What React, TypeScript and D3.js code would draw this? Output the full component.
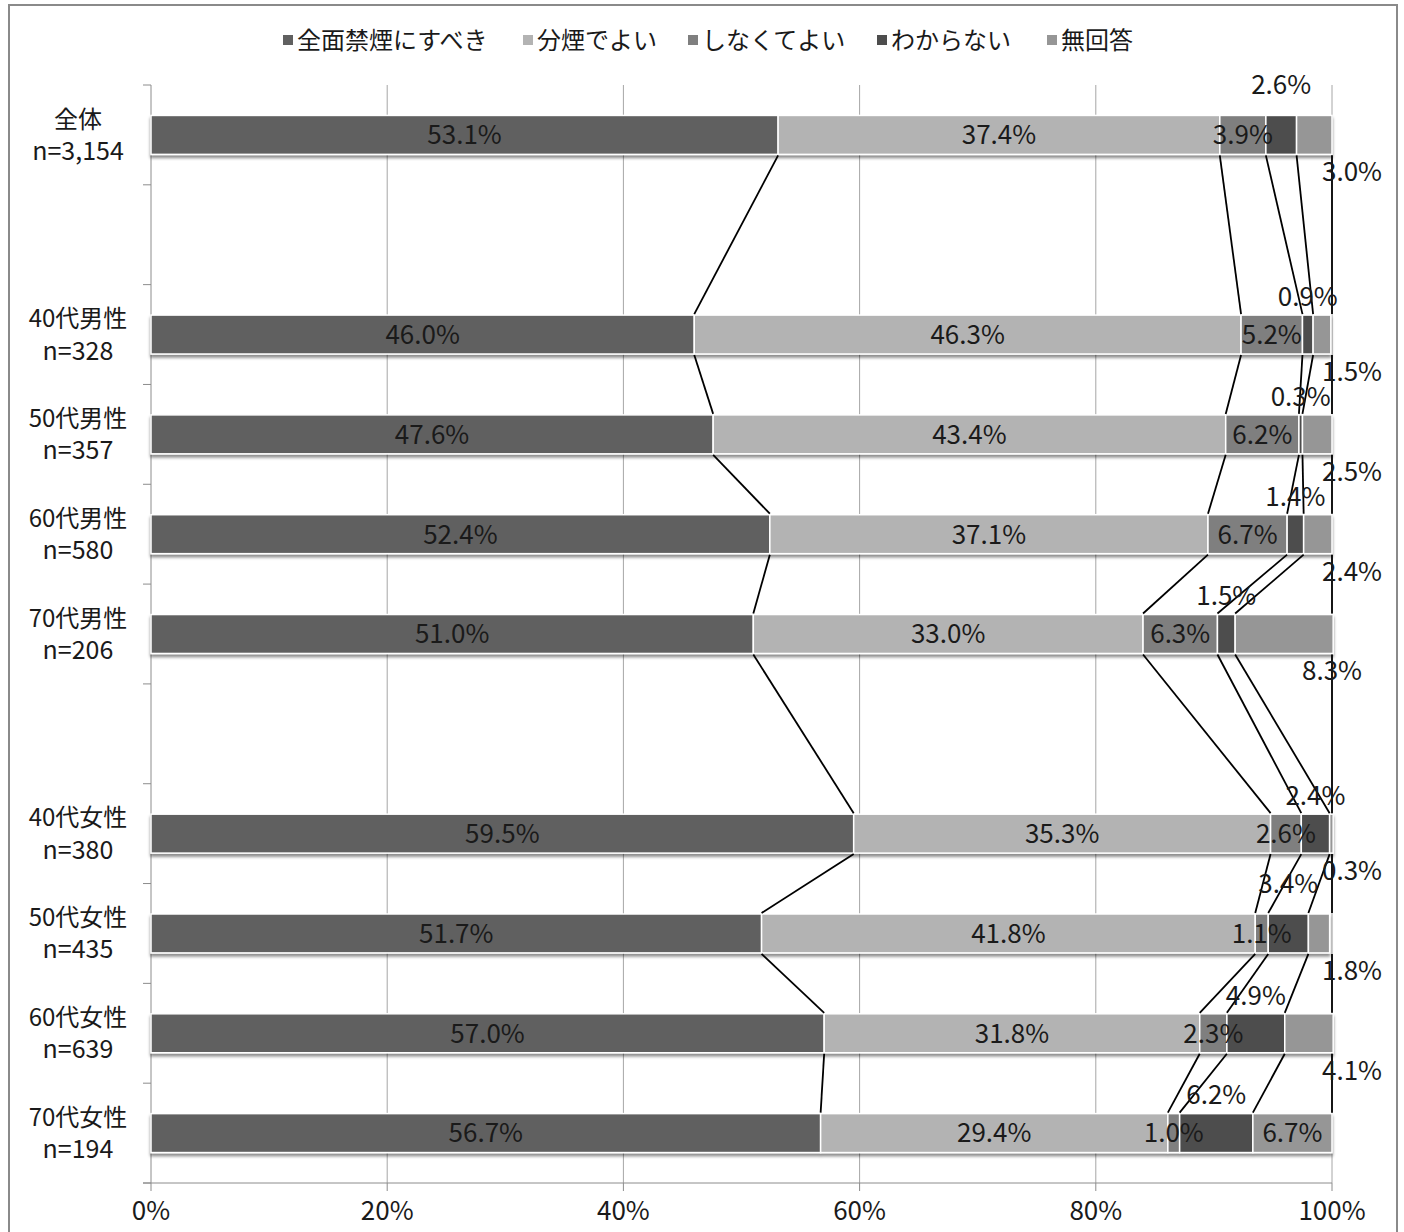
import React from "react";
import * as d3 from "d3";

const categories = ["全体", "", "40代男性", "50代男性", "60代男性", "70代男性", "", "40代女性", "50代女性", "60代女性", "70代女性"];
const sampleSizes = ["n=3,154", "", "n=328", "n=357", "n=580", "n=206", "", "n=380", "n=435", "n=639", "n=194"];
const seriesNames = ["全面禁煙にすべき", "分煙でよい", "しなくてよい", "わからない", "無回答"];
const seriesColors = ["#606060", "#b3b3b3", "#7f7f7f", "#4d4d4d", "#969696"];
const totalBan = [53.1, null, 46.0, 47.6, 52.4, 51.0, null, 59.5, 51.7, 57.0, 56.7];
const separate = [37.4, null, 46.3, 43.4, 37.1, 33.0, null, 35.3, 41.8, 31.8, 29.4];
const notNeeded = [3.9, null, 5.2, 6.2, 6.7, 6.3, null, 2.6, 1.1, 2.3, 1.0];
const dontKnow = [2.6, null, 0.9, 0.3, 1.4, 1.5, null, 2.4, 3.4, 4.9, 6.2];
const noAnswer = [3.0, null, 1.5, 2.5, 2.4, 8.3, null, 0.3, 1.8, 4.1, 6.7];
const xTicks = [0, 20, 40, 60, 80, 100];

const seriesValues = [totalBan, separate, notNeeded, dontKnow, noAnswer];

const FONT = "'Noto Sans CJK JP', 'Noto Sans', sans-serif";
const TEXT = "#1a1a1a";

export default function App() {
  const x = d3.scaleLinear().domain([0, 100]).range([151, 1332]);
  const keys = categories.map((_, i) => String(i));
  const y = d3.scaleBand().domain(keys).range([85, 1183]).paddingInner(0.61).paddingOuter(0.305);
  const bw = y.bandwidth();
  const step = y.step();

  const rows = categories
    .map((c, i) => {
      if (totalBan[i] == null) return null;
      const vals = seriesValues.map((s) => s[i] as number);
      const cum: number[] = [];
      let acc = 0;
      vals.forEach((v) => {
        cum.push(acc);
        acc += v;
      });
      return { i, key: String(i), vals, cum, total: acc };
    })
    .filter(Boolean) as { i: number; key: string; vals: number[]; cum: number[]; total: number }[];

  const boundaries = d3.range(categories.length + 1).map((k) => 85 + k * step);

  // series lines
  const seriesLines: { x1: number; y1: number; x2: number; y2: number }[] = [];
  for (let r = 0; r < rows.length - 1; r++) {
    const a = rows[r];
    const b = rows[r + 1];
    for (let s = 0; s < 5; s++) {
      const ea = a.cum[s] + a.vals[s];
      const eb = b.cum[s] + b.vals[s];
      seriesLines.push({
        x1: x(s === 4 ? 100 : ea),
        y1: (y(a.key) as number) + bw + 1,
        x2: x(s === 4 ? 100 : eb),
        y2: (y(b.key) as number) - 1,
      });
    }
  }

  const legendX = [283, 523, 688, 877, 1047];
  const lastIdx = categories.length - 1;

  return (
    <svg width={1404} height={1232} style={{ position: "absolute", left: 0, top: 0, background: "#fff" }} fontFamily={FONT}>
      <defs>
        <filter id="sh" x="-5%" y="-30%" width="110%" height="180%">
          <feDropShadow dx="0" dy="3" stdDeviation="1.6" floodColor="#000" floodOpacity="0.45" />
        </filter>
      </defs>
      <rect x={9} y={5} width={1388} height={1240} fill="#fff" stroke="#8a8a8a" strokeWidth={2} />

      {/* legend */}
      {seriesNames.map((n, s) => (
        <g key={n}>
          <rect x={legendX[s]} y={35} width={10} height={10} fill={seriesColors[s]} />
          <text x={legendX[s] + 14} y={40} dy="0.36em" fontSize={24} fill={TEXT}>
            {n}
          </text>
        </g>
      ))}

      {/* gridlines */}
      {xTicks.slice(1).map((t) => (
        <line key={t} x1={x(t)} x2={x(t)} y1={85} y2={1183} stroke="#a6a6a6" strokeWidth={1} />
      ))}

      {/* axes */}
      <line x1={151} x2={151} y1={85} y2={1183} stroke="#8c8c8c" strokeWidth={1} />
      {boundaries.map((b, k) => (
        <line key={k} x1={143} x2={151} y1={b} y2={b} stroke="#8c8c8c" strokeWidth={1} />
      ))}
      <line x1={143} x2={1332} y1={1183} y2={1183} stroke="#8c8c8c" strokeWidth={1} />
      {xTicks.map((t) => (
        <g key={t}>
          <line x1={x(t)} x2={x(t)} y1={1183} y2={1191} stroke="#8c8c8c" strokeWidth={1} />
          <text x={x(t)} y={1211} dy="0.36em" textAnchor="middle" fontSize={26} fill={TEXT}>
            {t}%
          </text>
        </g>
      ))}

      {/* category labels */}
      {categories.map((c, i) =>
        c ? (
          <g key={i}>
            <text x={78} y={(y(String(i)) as number) + bw / 2 - 16} dy="0.36em" textAnchor="middle" fontSize={24} fill={TEXT}>
              {c}
            </text>
            <text x={78} y={(y(String(i)) as number) + bw / 2 + 16} dy="0.36em" textAnchor="middle" fontSize={25} fill={TEXT}>
              {sampleSizes[i]}
            </text>
          </g>
        ) : null
      )}

      {/* bars */}
      {rows.map((r) => (
        <g key={r.key} filter="url(#sh)">
          {r.vals.map((v, s) => (
            <rect
              key={s}
              x={x(r.cum[s])}
              y={y(r.key)}
              width={x(r.cum[s] + v) - x(r.cum[s])}
              height={bw}
              fill={seriesColors[s]}
              stroke="#fff"
              strokeWidth={1.5}
            />
          ))}
        </g>
      ))}

      {/* series lines */}
      {seriesLines.map((l, k) => (
        <line key={k} x1={l.x1} y1={l.y1} x2={l.x2} y2={l.y2} stroke="#000" strokeWidth={1.8} />
      ))}

      {/* data labels */}
      {rows.map((r) =>
        r.vals.map((v, s) => {
          const cy = (y(r.key) as number) + bw / 2;
          let lx = x(r.cum[s] + v / 2);
          let ly = cy;
          if (s === 3) {
            ly = cy - (r.i === 0 || r.i === 8 ? 50 : 38);
          } else if (s === 4 && r.i !== lastIdx) {
            lx = r.vals[4] > 5 ? x(100) : x(100) + 20;
            ly = cy + 37;
          }
          return (
            <text key={r.key + "-" + s} x={lx} y={ly} dy="0.36em" textAnchor="middle" fontSize={26} fill={TEXT}>
              {v.toFixed(1)}%
            </text>
          );
        })
      )}
    </svg>
  );
}
